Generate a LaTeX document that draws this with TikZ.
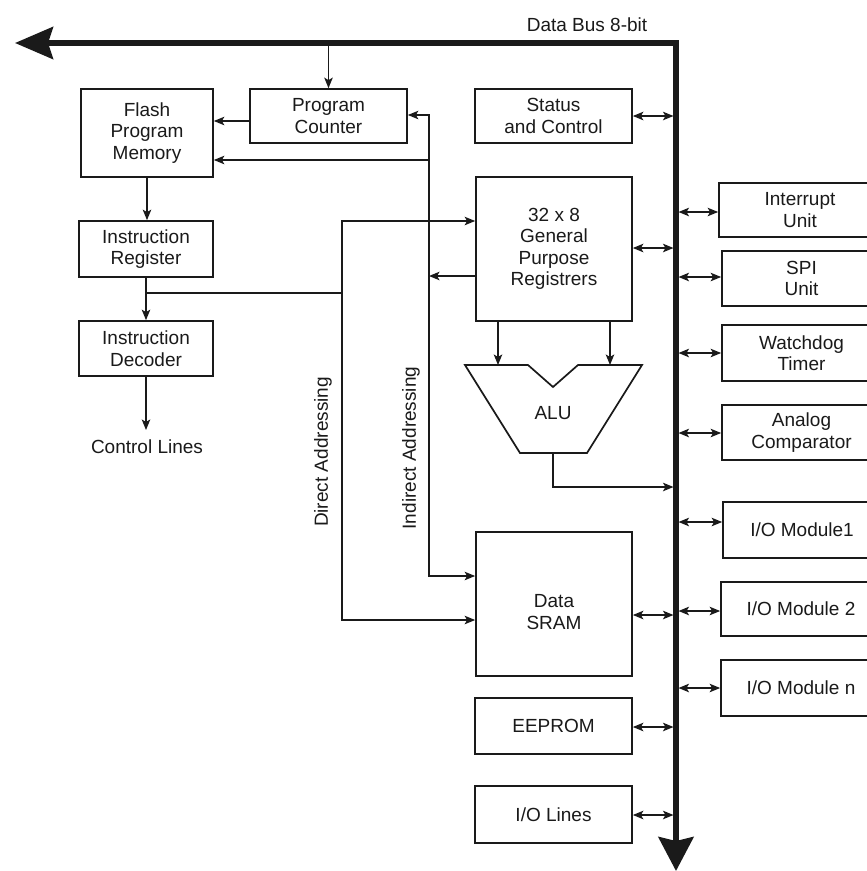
\documentclass[tikz,border=0pt]{standalone}
\usepackage{fontspec}
\setmainfont{Liberation Sans}
\usetikzlibrary{arrows.meta}
\definecolor{ink}{HTML}{1A1A1A}
\newcommand\dfont{\fontsize{19}{21.5}\selectfont}
\begin{document}
\begin{tikzpicture}[x=1pt,y=-1pt,
  box/.style={draw=ink, line width=1.7pt, inner sep=0pt, align=center, font=\dfont, text=ink},
  lbl/.style={inner sep=0pt, align=center, font=\dfont, text=ink},
  tip/.tip={Stealth[length=10.5pt,width=8.5pt,inset=2.5pt]},
  arr/.style={-tip, line width=1.5pt, draw=ink},
  dbl/.style={tip-tip, line width=1.5pt, draw=ink},
  ln/.style={line width=1.5pt, draw=ink},
  bus/.style={line width=5.5pt, draw=ink, line join=miter,
    {Stealth[length=38pt,width=32pt,inset=5pt]}-{Stealth[length=34pt,width=35pt,inset=4pt]}}]
\useasboundingbox (0,0) rectangle (867,871);
\clip (0,0) rectangle (867,871);
\fill[white] (0,0) rectangle (867,871);

% coordinates
\coordinate (bL) at (673.5,0);
\coordinate (bR) at (678.5,0);
\coordinate (ind) at (429,0);
\coordinate (dir) at (342,0);

% bus
\draw[bus] (15,43) coordinate (bustip) -- (676,43) coordinate (buscorner) -- (676,871) coordinate (busend);
\node[lbl] (dbus) at (587,25) {Data Bus 8-bit};

% left column
\node[box, minimum width=157pt, minimum height=54pt] (pc) at (328.5,116) {Program\\Counter};
\node[box, minimum width=132pt, minimum height=88pt] (fpm) at (147,133) {Flash\\Program\\Memory};
\node[box, minimum width=134pt, minimum height=56pt] (ir) at (146,249) {Instruction\\Register};
\node[box, minimum width=134pt, minimum height=55pt] (id) at (146,348.5) {Instruction\\Decoder};
\node[lbl] (cl) at (147,447) {Control Lines};

% centre column
\node[box, minimum width=157pt, minimum height=54pt] (sc) at (553.5,116) {Status\\and Control};
\node[box, minimum width=156pt, minimum height=144pt] (gpr) at (554,249) {32 x 8\\General\\Purpose\\Registrers};
\node[box, minimum width=156pt, minimum height=144pt] (sram) at (554,604) {};
\node[lbl] (sramtxt) at (554,612) {Data\\SRAM};
\node[box, minimum width=157pt, minimum height=56pt] (eeprom) at (553.5,726) {EEPROM};
\node[box, minimum width=157pt, minimum height=57pt] (iol) at (553.5,814.5) {I/O Lines};

% ALU
\draw[ink, line width=1.7pt, line join=miter] (465,365) -- (528,365) -- (553,387) -- (578,365) -- (642,365) -- (587,453) -- (520,453) -- cycle;
\node[lbl] (alu) at (553,413) {ALU};
\coordinate (aluout) at (553,453);

% right column
\node[box, minimum width=162pt, minimum height=54pt] (intr) at (800,210) {Interrupt\\Unit};
\node[box, minimum width=159pt, minimum height=55pt] (spi) at (801.5,278.5) {SPI\\Unit};
\node[box, minimum width=159pt, minimum height=56pt] (wdt) at (801.5,353) {Watchdog\\Timer};
\node[box, minimum width=159pt, minimum height=55pt] (ac) at (801.5,432.5) {Analog\\Comparator};
\node[box, minimum width=158pt, minimum height=56pt] (io1) at (802,530) {I/O Module1};
\node[box, minimum width=160pt, minimum height=54pt] (io2) at (801,609) {I/O Module 2};
\node[box, minimum width=160pt, minimum height=56pt] (ion) at (801,688) {I/O Module n};

% rotated labels
\node[lbl, rotate=90] (dtxt) at (323,452) {Direct Addressing};
\node[lbl, rotate=90] (itxt) at (411,448) {Indirect Addressing};

% connectors
\draw[arr] (pc.north |- buscorner) -- (pc.north);
\draw[arr] (pc.west |- 0,121) -- (fpm.east |- 0,121);
\draw[dbl] (pc.east |- 0,115) -- (ind |- 0,115) -- (ind |- 0,576) -- (sram.west |- 0,576);
\draw[arr] (gpr.west |- 0,276) -- (ind |- 0,276);
\draw[arr] (ind |- 0,160) -- (fpm.east |- 0,160);
\draw[arr] (fpm.south) -- (fpm.south |- ir.north);
\draw[arr] (ir.south) -- (ir.south |- id.north);
\draw[ln] (ir.south |- 0,293) -- (dir |- 0,293);
\draw[dbl] (gpr.west |- 0,221) -- (dir |- 0,221) -- (dir |- 0,620) -- (sram.west |- 0,620);
\draw[arr] (id.south) -- (id.south |- 0,430);
\draw[arr] (gpr.south -| 498,0) -- (498,365);
\draw[arr] (gpr.south -| 610,0) -- (610,365);
\draw[arr] (aluout) -- (553,487) -- (bL |- 0,487);

% bus connections, left side
\draw[dbl] (sc.east) -- (sc.east -| bL);
\draw[dbl] (gpr.east |- 0,248) -- (bL |- 0,248);
\draw[dbl] (sram.east |- 0,615) -- (bL |- 0,615);
\draw[dbl] (eeprom.east |- 0,727) -- (bL |- 0,727);
\draw[dbl] (iol.east |- 0,815) -- (bL |- 0,815);

% bus connections, right side
\draw[dbl] (bR |- 0,212) -- (intr.west |- 0,212);
\draw[dbl] (bR |- 0,277) -- (spi.west |- 0,277);
\draw[dbl] (bR |- 0,353) -- (wdt.west |- 0,353);
\draw[dbl] (bR |- 0,433) -- (ac.west |- 0,433);
\draw[dbl] (bR |- 0,522) -- (io1.west |- 0,522);
\draw[dbl] (bR |- 0,611) -- (io2.west |- 0,611);
\draw[dbl] (bR |- 0,688) -- (ion.west |- 0,688);
\end{tikzpicture}
\end{document}
